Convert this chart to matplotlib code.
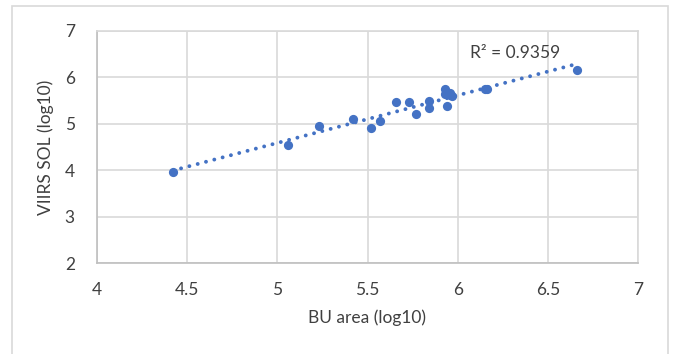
import numpy as np
import matplotlib
matplotlib.use("Agg")
from matplotlib import pyplot as plt
from matplotlib.patches import Rectangle

# BU area (log10) vs VIIRS SOL (log10)
bu_area = [4.42, 5.06, 5.23, 5.42, 5.52, 5.57, 5.66, 5.73, 5.77, 5.84, 5.84,
           5.93, 5.93, 5.94, 5.96, 5.97, 5.955, 6.15, 6.16, 6.66]
viirs_sol = [3.96, 4.54, 4.95, 5.10, 4.90, 5.06, 5.46, 5.47, 5.22, 5.49, 5.35,
             5.75, 5.65, 5.38, 5.62, 5.60, 5.67, 5.74, 5.76, 6.17]
r2_label = "R² = 0.9359"

blue = "#4472C4"
grid_c = "#d9d9d9"
txt_c = "#404040"
plt.rcParams['font.family'] = ['Lato', 'DejaVu Sans']

fig = plt.figure(figsize=(6.75, 3.54), dpi=100)
fig.patches.append(Rectangle((12 / 675, -0.1), 656 / 675, 1 - 6 / 354 + 0.1,
                             transform=fig.transFigure, fill=False,
                             edgecolor=grid_c, linewidth=1.2))
ax = fig.add_axes([97 / 675, 1 - 263 / 354, 541 / 675, 232 / 354])

x = np.array(bu_area)
y = np.array(viirs_sol)
k, b = np.polyfit(x, y, 1)
xs = np.array([x.min(), x.max()])
ax.plot(xs, k * xs + b, color=blue, linestyle=(0, (0.01, 2.2)), linewidth=2.8,
        dash_capstyle='round', zorder=2)
ax.scatter(x, y, s=44, color=blue, zorder=3, linewidths=0)

ax.set_xlim(4, 7)
ax.set_ylim(2, 7)
ax.set_xticks([4, 4.5, 5, 5.5, 6, 6.5, 7])
ax.set_xticklabels(["4", "4.5", "5", "5.5", "6", "6.5", "7"])
ax.set_yticks([2, 3, 4, 5, 6, 7])
ax.grid(True, color=grid_c, linewidth=1.2)
ax.set_axisbelow(True)
for side in ax.spines:
    ax.spines[side].set_color(grid_c)
    ax.spines[side].set_linewidth(1.2)
ax.spines['left'].set_color("#bfbfbf")
ax.spines['bottom'].set_color("#bfbfbf")
ax.tick_params(length=0, labelsize=12.5, colors=txt_c, pad=14)
ax.tick_params(axis='y', pad=16)

ax.set_xlabel("BU area (log10)", fontsize=12.5, color=txt_c, labelpad=8)
ax.set_ylabel("VIIRS SOL (log10)", fontsize=12.5, color=txt_c, labelpad=8)
ax.text(6.07, 6.53, r2_label, fontsize=12.5, color=txt_c, va='center', ha='left')

fig.savefig("out.png", dpi=100)
